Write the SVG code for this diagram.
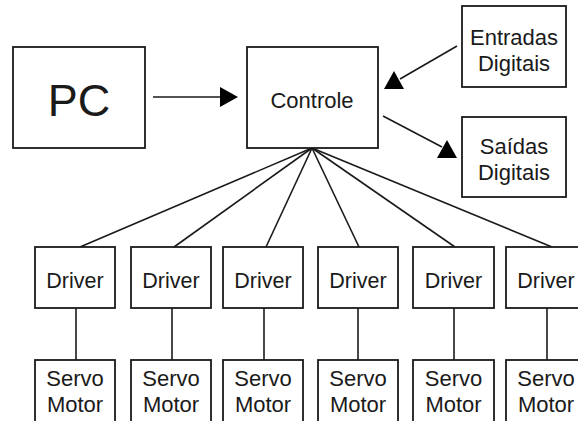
<svg xmlns="http://www.w3.org/2000/svg" width="578" height="421" viewBox="0 0 578 421">
<style>
.box{fill:#fff;stroke:#1a1a1a;stroke-width:1.8}
.t{font-family:"Liberation Sans",Arial,sans-serif;font-size:22px;fill:#1a1a1a;text-anchor:middle}
.d{font-size:21.5px}
.ln{stroke:#1a1a1a;stroke-width:1.6;fill:none}
.ah{fill:#000;stroke:none}
</style>
<rect width="578" height="421" fill="#fff"/>
<g id="connectors">
<line class="ln" x1="153" y1="97" x2="222" y2="97"/>
<polygon class="ah" points="220,87 238,97 220,107"/>
<line class="ln" x1="457" y1="46" x2="400" y2="79"/>
<polygon class="ah" points="384,89 404,89 394,71"/>
<line class="ln" x1="383" y1="116" x2="442" y2="147"/>
<polygon class="ah" points="437,158 457,158 447,140"/>
<line class="ln" x1="312" y1="148" x2="80" y2="247"/>
<line class="ln" x1="312" y1="148" x2="174" y2="247"/>
<line class="ln" x1="312" y1="148" x2="266" y2="247"/>
<line class="ln" x1="312" y1="148" x2="359" y2="247"/>
<line class="ln" x1="312" y1="148" x2="455" y2="247"/>
<line class="ln" x1="312" y1="148" x2="552" y2="247"/>
<line class="ln" x1="76" y1="308" x2="76" y2="360"/>
<line class="ln" x1="172" y1="308" x2="172" y2="360"/>
<line class="ln" x1="264" y1="308" x2="264" y2="360"/>
<line class="ln" x1="358" y1="308" x2="358" y2="360"/>
<line class="ln" x1="454" y1="308" x2="454" y2="360"/>
<line class="ln" x1="547" y1="308" x2="547" y2="360"/>
</g>
<g id="pc"><rect class="box" x="13" y="47" width="132" height="101"/><text class="t" x="79" y="116" style="font-size:45px">PC</text></g>
<g id="controle"><rect class="box" x="247" y="47" width="131" height="101"/><text class="t" x="312" y="108">Controle</text></g>
<g id="entradas"><rect class="box" x="462" y="6" width="104" height="81"/><text class="t" x="514" y="45">Entradas</text><text class="t" x="514" y="71">Digitais</text></g>
<g id="saidas"><rect class="box" x="462" y="117" width="104" height="80"/><text class="t" x="514" y="154">Saídas</text><text class="t" x="514" y="180">Digitais</text></g>
<g id="driver1"><rect class="box" x="35" y="247" width="80" height="61"/><text class="t d" x="75" y="288">Driver</text></g>
<g id="driver2"><rect class="box" x="131" y="247" width="80" height="61"/><text class="t d" x="171" y="288">Driver</text></g>
<g id="driver3"><rect class="box" x="223" y="247" width="80" height="61"/><text class="t d" x="263" y="288">Driver</text></g>
<g id="driver4"><rect class="box" x="318" y="247" width="80" height="61"/><text class="t d" x="358" y="288">Driver</text></g>
<g id="driver5"><rect class="box" x="413" y="247" width="81" height="61"/><text class="t d" x="453.5" y="288">Driver</text></g>
<g id="driver6"><rect class="box" x="506" y="247" width="80" height="61"/><text class="t d" x="546" y="288">Driver</text></g>
<g id="servo1"><rect class="box" x="35" y="360" width="80" height="70"/><text class="t" x="75" y="386">Servo</text><text class="t" x="75" y="412">Motor</text></g>
<g id="servo2"><rect class="box" x="131" y="360" width="80" height="70"/><text class="t" x="171" y="386">Servo</text><text class="t" x="171" y="412">Motor</text></g>
<g id="servo3"><rect class="box" x="223" y="360" width="80" height="70"/><text class="t" x="263" y="386">Servo</text><text class="t" x="263" y="412">Motor</text></g>
<g id="servo4"><rect class="box" x="318" y="360" width="80" height="70"/><text class="t" x="358" y="386">Servo</text><text class="t" x="358" y="412">Motor</text></g>
<g id="servo5"><rect class="box" x="413" y="360" width="81" height="70"/><text class="t" x="453.5" y="386">Servo</text><text class="t" x="453.5" y="412">Motor</text></g>
<g id="servo6"><rect class="box" x="506" y="360" width="80" height="70"/><text class="t" x="546" y="386">Servo</text><text class="t" x="546" y="412">Motor</text></g>
</svg>
